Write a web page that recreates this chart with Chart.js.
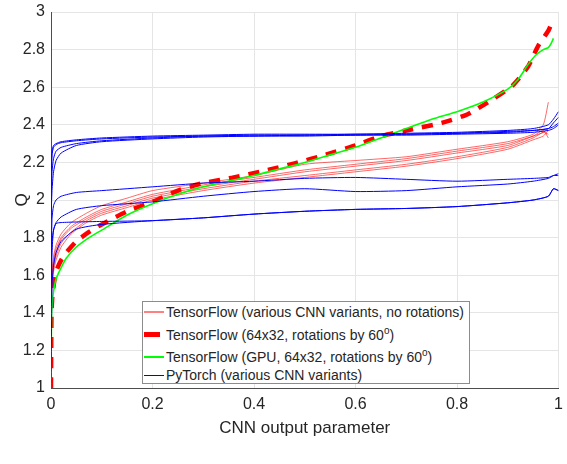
<!DOCTYPE html>
<html>
<head>
<meta charset="utf-8">
<script src="https://cdn.jsdelivr.net/npm/chart.js@4.4.0/dist/chart.umd.min.js"></script>
<style>
  body { margin: 0; background: #fff; }
  #wrap { position: relative; width: 567px; height: 464px; }
  #legend {
    position: absolute; left: 142px; top: 301px; width: 326px; height: 81px;
    border: 1px solid #8c8c8c; background: #fff;
    font-family: 'Liberation Sans', Arial, sans-serif; font-size: 14px; color: #262626;
  }
  .row { position: absolute; left: 0; height: 18px; line-height: 18px; white-space: nowrap; }
  .sample { position: absolute; left: 1px; width: 20px; top: 9px; }
  .label { position: absolute; left: 23px; top: 0; }
  sup { font-size: 10px; vertical-align: 6px; line-height: 0; }
</style>
</head>
<body>
<div id="wrap">
  <canvas id="chart" width="567" height="464"></canvas>
  <div id="legend">
    <div class="row" style="top:1px"><span class="sample" style="border-top:2px solid #ff8080;margin-top:-1px"></span><span class="label">TensorFlow (various CNN variants, no rotations)</span></div>
    <div class="row" style="top:24px"><span class="sample" style="border-top:5px solid #ff0000;margin-top:-3px;width:16px"></span><span class="label">TensorFlow (64x32, rotations by 60<sup>o</sup>)</span></div>
    <div class="row" style="top:46px"><span class="sample" style="border-top:2px solid #00ff00;margin-top:-1px"></span><span class="label">TensorFlow (GPU, 64x32, rotations by 60<sup>o</sup>)</span></div>
    <div class="row" style="top:64px"><span class="sample" style="border-top:1px solid #0000ff"></span><span class="label">PyTorch (various CNN variants)</span></div>
  </div>
</div>
<script>
// axis ticks
const xTickVals = [0, 0.2, 0.4, 0.6, 0.8, 1];
const yTickVals = [1, 1.2, 1.4, 1.6, 1.8, 2, 2.2, 2.4, 2.6, 2.8, 3];

// TensorFlow, various CNN variants, no rotations (thin red)
const redX = [0, 0.002, 0.005, 0.01, 0.02, 0.04, 0.07, 0.1, 0.15, 0.2, 0.3, 0.4, 0.5, 0.6, 0.7, 0.8, 0.9, 0.95, 0.97, 0.98];
const red1 = [1.52, 1.62, 1.70, 1.76, 1.82, 1.88, 1.93, 1.97, 2.01, 2.05, 2.09, 2.13, 2.19, 2.21, 2.23, 2.27, 2.31, 2.35, 2.40, 2.52];
const red2 = [1.50, 1.60, 1.68, 1.74, 1.80, 1.86, 1.91, 1.95, 1.99, 2.03, 2.08, 2.12, 2.16, 2.19, 2.22, 2.26, 2.30, 2.34, 2.36, 2.38];
const red3 = [1.48, 1.58, 1.66, 1.72, 1.79, 1.85, 1.90, 1.94, 1.98, 2.02, 2.07, 2.11, 2.15, 2.18, 2.21, 2.25, 2.29, 2.34, 2.37, 2.33];
const red4 = [1.46, 1.56, 1.64, 1.70, 1.77, 1.83, 1.89, 1.93, 1.97, 2.01, 2.06, 2.10, 2.13, 2.16, 2.19, 2.23, 2.28, 2.33, 2.36, 2.35];
const red5 = [1.44, 1.54, 1.62, 1.68, 1.75, 1.82, 1.88, 1.92, 1.96, 2.00, 2.05, 2.09, 2.12, 2.15, 2.18, 2.22, 2.27, 2.32, 2.34, 2.37];

// TensorFlow 64x32, rotations by 60 (thick red dashed)
const dashX = [0, 0.001, 0.003, 0.006, 0.01, 0.02, 0.03, 0.05, 0.075, 0.1, 0.15, 0.2, 0.25, 0.3, 0.36, 0.42, 0.48, 0.54, 0.6, 0.65, 0.71, 0.77, 0.82, 0.87, 0.91, 0.94, 0.96, 0.98, 0.985];
const dashY = [1.0, 1.40, 1.50, 1.56, 1.62, 1.68, 1.72, 1.78, 1.83, 1.87, 1.94, 1.99, 2.05, 2.09, 2.12, 2.155, 2.195, 2.24, 2.29, 2.34, 2.375, 2.41, 2.455, 2.535, 2.61, 2.71, 2.82, 2.90, 2.93];

// TensorFlow GPU (green)
const greenX = [0, 0.001, 0.003, 0.006, 0.01, 0.02, 0.03, 0.05, 0.075, 0.1, 0.15, 0.2, 0.25, 0.3, 0.35, 0.4, 0.45, 0.5, 0.55, 0.6, 0.65, 0.7, 0.75, 0.8, 0.85, 0.9, 0.92, 0.94, 0.955, 0.97, 0.98, 0.985, 0.99];
const greenY = [1.0, 1.38, 1.47, 1.53, 1.58, 1.64, 1.69, 1.75, 1.80, 1.84, 1.92, 1.98, 2.03, 2.07, 2.10, 2.13, 2.165, 2.20, 2.24, 2.28, 2.33, 2.38, 2.43, 2.47, 2.52, 2.59, 2.64, 2.72, 2.77, 2.80, 2.81, 2.83, 2.86];

// PyTorch, various CNN variants (blue)
const blueX = [0, 0.002, 0.005, 0.01, 0.02, 0.05, 0.1, 0.2, 0.3, 0.4, 0.5, 0.6, 0.7, 0.8, 0.9, 0.95, 0.98, 0.99, 1.0];
const blue1 = [2.10, 2.26, 2.29, 2.30, 2.31, 2.32, 2.33, 2.34, 2.345, 2.35, 2.35, 2.35, 2.355, 2.36, 2.37, 2.38, 2.40, 2.43, 2.47];
const blue2 = [2.05, 2.24, 2.28, 2.295, 2.305, 2.315, 2.325, 2.335, 2.34, 2.345, 2.345, 2.35, 2.35, 2.355, 2.365, 2.37, 2.38, 2.39, 2.41];
const blue3 = [1.95, 2.15, 2.22, 2.26, 2.28, 2.30, 2.315, 2.33, 2.34, 2.34, 2.34, 2.345, 2.345, 2.35, 2.355, 2.36, 2.37, 2.38, 2.40];
const blue4 = [1.90, 2.05, 2.15, 2.21, 2.25, 2.29, 2.31, 2.325, 2.335, 2.34, 2.345, 2.345, 2.35, 2.355, 2.36, 2.37, 2.38, 2.41, 2.44];
const blue5 = [1.60, 1.90, 1.97, 2.00, 2.02, 2.04, 2.05, 2.07, 2.09, 2.10, 2.115, 2.12, 2.11, 2.10, 2.11, 2.115, 2.12, 2.13, 2.13];
const blue6 = [1.55, 1.78, 1.84, 1.88, 1.91, 1.95, 1.97, 1.99, 2.02, 2.045, 2.06, 2.045, 2.05, 2.07, 2.085, 2.10, 2.115, 2.13, 2.14];
const blue7 = [1.0, 1.55, 1.65, 1.72, 1.78, 1.845, 1.87, 1.89, 1.905, 1.925, 1.94, 1.95, 1.955, 1.965, 1.985, 2.00, 2.02, 2.06, 2.05];
const blue8 = [1.45, 1.72, 1.84, 1.875, 1.88, 1.883, 1.886, 1.89, 1.905, 1.925, 1.94, 1.95, 1.955, 1.965, 1.985, 2.00, 2.02, 2.06, 2.05];

function pts(xs, ys) {
  return xs.map((x, i) => ({ x: x, y: ys[i] }));
}

function line(xs, ys, color, width, order, extra) {
  return Object.assign({
    data: pts(xs, ys),
    borderColor: color,
    borderWidth: width,
    pointRadius: 0,
    fill: false,
    tension: 0.2,
    order: order
  }, extra || {});
}

const datasets = [];
[blue1, blue2, blue3, blue4, blue5, blue6, blue7, blue8].forEach(b => {
  datasets.push(line(blueX, b, 'rgb(0,0,255)', 1, 1));
});
datasets.push(line(greenX, greenY, 'rgb(0,255,0)', 1.6, 2));
datasets.push(line(dashX, dashY, 'rgb(255,0,0)', 4.5, 3, { borderDash: [11, 9] }));
[red1, red2, red3, red4, red5].forEach(r => {
  datasets.push(line(redX, r, 'rgba(255,0,0,0.75)', 0.8, 4));
});

const tickFont = { family: "'Liberation Sans', Arial, sans-serif", size: 16 };
const titleFont = { family: "'Liberation Sans', Arial, sans-serif", size: 17 };

new Chart(document.getElementById('chart'), {
  type: 'line',
  data: { datasets: datasets },
  options: {
    responsive: false,
    animation: false,
    layout: { padding: { left: 0, top: 12, right: 8.5, bottom: 0 } },
    plugins: { legend: { display: false }, tooltip: { enabled: false } },
    scales: {
      x: {
        type: 'linear',
        min: 0,
        max: 1,
        afterFit: s => { s.height = 76; s.paddingLeft = 0; s.paddingRight = 0; },
        afterBuildTicks: s => { s.ticks = xTickVals.map(v => ({ value: v })); },
        grid: { color: '#e5e5e5', drawTicks: false },
        border: { color: '#4d4d4d', width: 1 },
        ticks: {
          font: tickFont, color: '#262626', padding: 7, maxRotation: 0,
          callback: v => String(v)
        },
        title: {
          display: true, text: 'CNN output parameter',
          font: titleFont, color: '#262626', padding: { top: 0, bottom: 25 }
        }
      },
      y: {
        type: 'linear',
        min: 1,
        max: 3,
        afterFit: s => { s.width = 51; s.paddingTop = 0; s.paddingBottom = 0; },
        afterBuildTicks: s => { s.ticks = yTickVals.map(v => ({ value: v })); },
        grid: { color: '#e5e5e5', drawTicks: false },
        border: { color: '#4d4d4d', width: 1 },
        ticks: {
          font: tickFont, color: '#262626', padding: 6,
          callback: v => String(Math.round(v * 10) / 10)
        },
        title: {
          display: true, text: 'Q',
          font: titleFont, color: '#262626', padding: { top: 12, bottom: 0 }
        }
      }
    }
  }
});
</script>
</body>
</html>
